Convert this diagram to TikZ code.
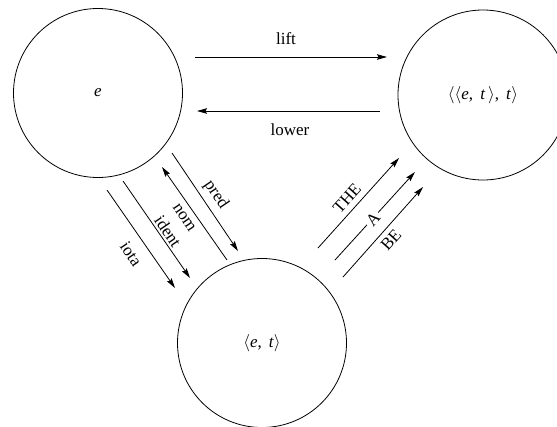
\documentclass[tikz,border=0pt]{standalone}
\usepackage{fontspec}
\setmainfont{Liberation Serif}
\usetikzlibrary{arrows.meta}
\begin{document}
\begin{tikzpicture}[x=1pt,y=-1pt,
  typecircle/.style={draw, circle, line width=0.8pt, inner sep=0pt, font=\fontsize{17}{19}\selectfont},
  conn/.style={line width=0.8pt, -{Stealth[length=10pt,width=5.5pt,inset=1.5pt]}},
  lbl/.style={font=\fontsize{17}{19}\selectfont, inner sep=0pt}
]
\clip (0,0) rectangle (557,426);
\fill[white] (0,0) rectangle (557,426);

% circles
\node[typecircle, minimum size=169pt] (L) at (98,93) {\textit{e}};
\node[typecircle, minimum size=170pt] (R) at (483,95) {\ensuremath{\langle\langle}\textit{e}, \,\textit{t}\,\ensuremath{\rangle}, \,\textit{t}\ensuremath{\rangle}};
\node[typecircle, minimum size=169pt] (B) at (262,343) {\ensuremath{\langle}\textit{e}, \,\textit{t}\ensuremath{\rangle}};

% endpoints
\coordinate (liftS) at (195,57);   \coordinate (liftE) at (387,57);
\coordinate (lowS) at (380,111);   \coordinate (lowE) at (197,111);
\coordinate (iotaS) at (107,190);  \coordinate (iotaE) at (175,288);
\coordinate (idS) at (123,181);    \coordinate (idE) at (190,278);
\coordinate (nomS) at (227,260);   \coordinate (nomE) at (162,167);
\coordinate (predS) at (172,153);  \coordinate (predE) at (238,251);
\coordinate (theS) at (318,248);   \coordinate (theE) at (399,158);
\coordinate (aS) at (335,260);     \coordinate (aE) at (415,172);
\coordinate (beS) at (343,277);    \coordinate (beE) at (423,187);

% horizontal arrows
\draw[conn] (liftS) -- (liftE);
\draw[conn] (lowS) -- (lowE);
\node[lbl] (liftL) at (286,39) {lift};
\node[lbl] (lowL) at (290,130) {lower};

% left group
\draw[conn] (iotaS) -- (iotaE);
\draw[conn] (idS) -- (idE);
\draw[conn] (nomS) -- (nomE);
\draw[conn] (predS) -- (predE);
\node[lbl, rotate=-56] (predL) at (216,195) {pred};
\node[lbl, rotate=-56] (nomL) at (184,218) {nom};
\node[lbl, rotate=-56] (idL) at (168,231) {ident};
\node[lbl, rotate=-56] (iotaL) at (131,254) {iota};

% right group
\draw[conn] (theS) -- (theE);
\draw[conn] (aS) -- (aE);
\draw[conn] (beS) -- (beE);
\node[lbl, rotate=48] (theL) at (347,198) {THE};
\node[lbl, rotate=48, fill=white, inner sep=2pt] (aL) at (373,219) {A};
\node[lbl, rotate=48] (beL) at (391,240) {BE};
\end{tikzpicture}
\end{document}
